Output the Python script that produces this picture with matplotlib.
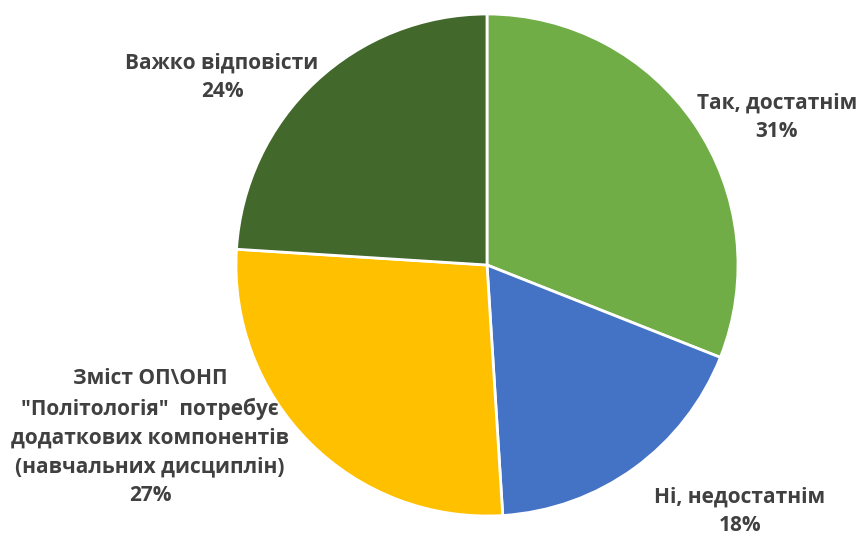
import matplotlib
matplotlib.use("Agg")
import matplotlib.pyplot as plt

labels = ["Так, достатнім", "Ні, недостатнім",
          "Зміст ОП\\ОНП\n\"Політологія\"  потребує\nдодаткових компонентів\n(навчальних дисциплін)",
          "Важко відповісти"]
shares = [31, 18, 27, 24]
colors = ["#70AD47", "#4472C4", "#FFC000", "#43682B"]

# label centres in pixel units (y measured from bottom)
label_x = [777, 740, 150, 222]
label_y = [541 - 117, 541 - 511, 541 - 437, 541 - 77]

fig = plt.figure(figsize=(8.66, 5.41), dpi=100)
ax = fig.add_axes([0, 0, 1, 1])

ax.pie(shares, colors=colors, startangle=90, counterclock=False,
       center=(487, 541 - 265), radius=251, frame=True,
       wedgeprops=dict(edgecolor="white", linewidth=2))
ax.set_xlim(0, 866)
ax.set_ylim(0, 541)
ax.set_aspect("auto")
ax.axis("off")

for lab, s, x, y in zip(labels, shares, label_x, label_y):
    ax.text(x, y, "{}\n{}%".format(lab, s), ha="center", va="center",
            multialignment="center", fontsize=15, fontweight="bold",
            family="Open Sans", color="#404040", linespacing=1.48)

fig.savefig("out.png", dpi=100)
